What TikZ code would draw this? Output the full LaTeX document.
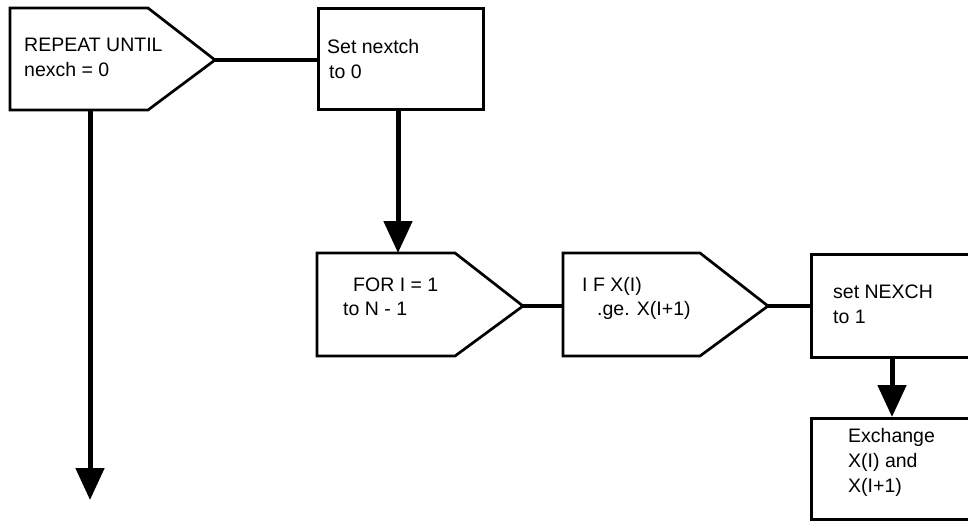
\documentclass[tikz,border=0pt]{standalone}
\usepackage{fontspec}
\setmainfont{Liberation Sans}
\usetikzlibrary{arrows.meta}
\begin{document}
\begin{tikzpicture}[x=1pt,y=-1pt,
  boxline/.style={line width=2.7pt,line join=miter},
  rbox/.style={draw,line width=2.7pt,minimum width=#1,inner sep=0pt,anchor=north west},
  lbl/.style={anchor=base west,inner sep=0pt,font=\fontsize{19.5}{23}\selectfont},
  conn/.style={line width=3.5pt},
  flow/.style={line width=5pt,-{Triangle[width=28pt,length=32pt]}}]
\useasboundingbox (0,0) rectangle (968,522);
\clip (0,0) rectangle (968,522);
% REPEAT UNTIL pentagon
\draw[boxline] (10,8) -- (148,8) -- (215,60) -- (148,110) -- (10,110) -- cycle;
\coordinate (reptip) at (215,60);
\coordinate (repbot) at (90,110);
\coordinate (exitend) at (90,500);
\node[lbl] (rep1) at (24,51) {REPEAT UNTIL};
\node[lbl] (rep2) at (24,76) {nexch = 0};
% Set nextch box
\node[rbox=165pt,minimum height=101pt] (set) at (317,7) {};
\node[lbl] (set1) at (327,53) {Set nextch};
\node[lbl] (set2) at (329,78) {to 0};
% FOR pentagon
\draw[boxline] (317,253) -- (455,253) -- (523,306) -- (455,356) -- (317,356) -- cycle;
\coordinate (fortop) at (398,253);
\coordinate (fortip) at (523,306);
\node[lbl] (for1) at (353,291) {FOR I = 1};
\node[lbl] (for2) at (343,315) {to N - 1};
% IF pentagon
\draw[boxline] (563,253) -- (700,253) -- (768,306) -- (700,356) -- (563,356) -- cycle;
\coordinate (ifleft) at (563,306);
\coordinate (iftip) at (768,306);
\node[lbl] (if1) at (582,291) {I F X(I)};
\node[lbl] (if2) at (597,315) {.ge. X(I+1)};
% set NEXCH box
\node[rbox=162pt,minimum height=103pt] (nex) at (810,253) {};
\node[lbl] (nex1) at (833,298) {set NEXCH};
\node[lbl] (nex2) at (833,323) {to 1};
% Exchange box
\node[rbox=162pt,minimum height=101pt] (exc) at (810,417) {};
\node[lbl] (exc1) at (848,442) {Exchange};
\node[lbl] (exc2) at (848,467) {X(I) and};
\node[lbl] (exc3) at (848,492) {X(I+1)};
% connectors
\draw[conn] (reptip) -- (set.west |- reptip);
\draw[conn] (fortip) -- (ifleft);
\draw[conn] (iftip) -- (nex.west |- iftip);
\draw[flow] (repbot) -- (exitend);
\draw[flow] (set.south -| fortop) -- (fortop);
\draw[flow] (nex.south -| 892,0) -- (exc.north -| 892,0);
\end{tikzpicture}
\end{document}
